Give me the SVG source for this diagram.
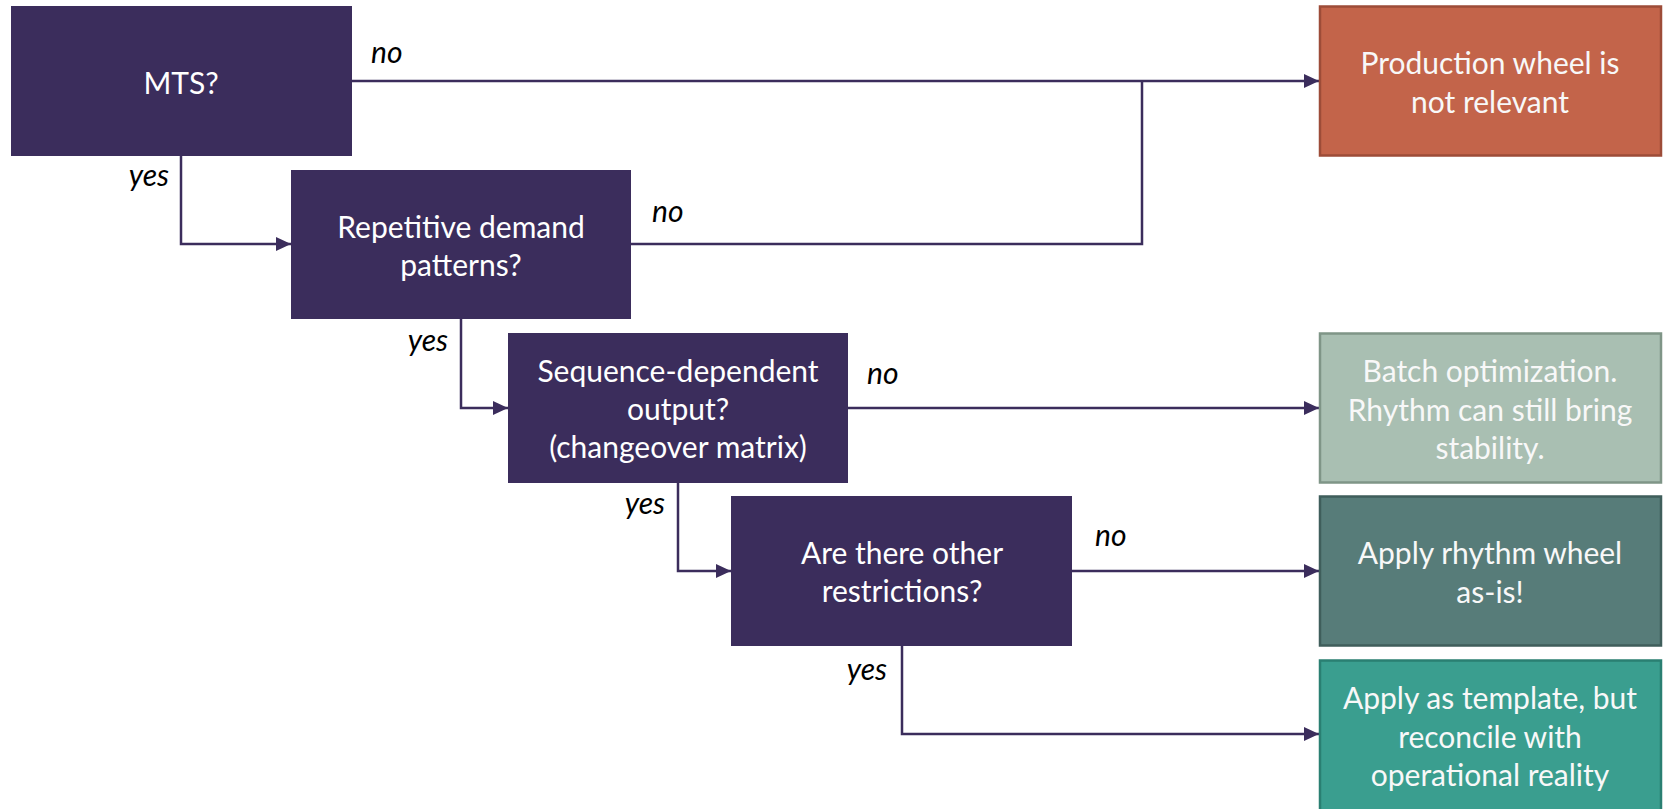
<svg xmlns="http://www.w3.org/2000/svg" width="1669" height="809" viewBox="0 0 1669 809">
  <style>
    .q { fill: #3b2d5c; }
    .qt { fill: #ffffff; font-family: Lato, "Liberation Sans", sans-serif; font-size: 30px; text-anchor: middle; }
    .rt { fill: #f8f8f8; font-family: Lato, "Liberation Sans", sans-serif; font-size: 30px; text-anchor: middle; }
    .lbl { fill: #000000; font-family: Lato, "Liberation Sans", sans-serif; font-size: 30px; font-style: italic; }
    .end { text-anchor: end; }
    .wire { fill: none; stroke: #3b2d5c; stroke-width: 2.5; }
    .arrow { marker-end: url(#head); }
  </style>
  <defs>
    <marker id="head" markerUnits="userSpaceOnUse" markerWidth="16" markerHeight="16" refX="15" refY="7" orient="auto">
      <path d="M0,0 L15,7 L0,14 z" fill="#3b2d5c"/>
    </marker>
  </defs>
  <rect width="1669" height="809" fill="#ffffff"/>

  <!-- connectors -->
  <g id="connectors">
    <path class="wire arrow" d="M352,81 H1319"/>
    <path class="wire" d="M631,244 H1142 V81"/>
    <path class="wire arrow" d="M181,156 V244 H291"/>
    <path class="wire arrow" d="M461,319 V408 H508"/>
    <path class="wire arrow" d="M848,408 H1319"/>
    <path class="wire arrow" d="M678,483 V571 H731"/>
    <path class="wire arrow" d="M1072,571 H1319"/>
    <path class="wire arrow" d="M902,646 V734 H1319"/>
    <text class="lbl" x="371" y="63">no</text>
    <text class="lbl end" x="169" y="186">yes</text>
    <text class="lbl" x="652" y="222">no</text>
    <text class="lbl end" x="448" y="351">yes</text>
    <text class="lbl" x="867" y="384">no</text>
    <text class="lbl end" x="665" y="514">yes</text>
    <text class="lbl" x="1095" y="546">no</text>
    <text class="lbl end" x="887" y="680">yes</text>
  </g>

  <!-- decision boxes -->
  <g id="q-mts">
    <rect class="q" x="11" y="6" width="341" height="150"/>
    <text class="qt" x="181" y="94">MTS?</text>
  </g>
  <g id="q-repetitive">
    <rect class="q" x="291" y="170" width="340" height="149"/>
    <text class="qt" x="461" y="238">Repetitive demand</text>
    <text class="qt" x="461" y="276">patterns?</text>
  </g>
  <g id="q-sequence">
    <rect class="q" x="508" y="333" width="340" height="150"/>
    <text class="qt" x="678" y="382">Sequence-dependent</text>
    <text class="qt" x="678" y="420">output?</text>
    <text class="qt" x="678" y="458">(changeover matrix)</text>
  </g>
  <g id="q-restrictions">
    <rect class="q" x="731" y="496" width="341" height="150"/>
    <text class="qt" x="902" y="564">Are there other</text>
    <text class="qt" x="902" y="602">restrictions?</text>
  </g>

  <!-- outcome boxes -->
  <g id="r-not-relevant">
    <rect x="1320" y="6.5" width="341" height="149" fill="#c3644a" stroke="#9d4c38" stroke-width="2.5"/>
    <text class="rt" x="1490" y="74">Production wheel is</text>
    <text class="rt" x="1490" y="113">not relevant</text>
  </g>
  <g id="r-batch">
    <rect x="1320" y="333.5" width="341" height="149" fill="#a9bfb2" stroke="#7f9587" stroke-width="2.5"/>
    <text class="rt" x="1490" y="382">Batch optimization.</text>
    <text class="rt" x="1490" y="420.5">Rhythm can still bring</text>
    <text class="rt" x="1490" y="459">stability.</text>
  </g>
  <g id="r-as-is">
    <rect x="1320" y="496.5" width="341" height="149" fill="#577c79" stroke="#3f5e5b" stroke-width="2.5"/>
    <text class="rt" x="1490" y="564">Apply rhythm wheel</text>
    <text class="rt" x="1490" y="603">as-is!</text>
  </g>
  <g id="r-template">
    <rect x="1320" y="660.5" width="341" height="150" fill="#3a9e8f" stroke="#2a7f72" stroke-width="2.5"/>
    <text class="rt" x="1490" y="709">Apply as template, but</text>
    <text class="rt" x="1490" y="747.5">reconcile with</text>
    <text class="rt" x="1490" y="786">operational reality</text>
  </g>
</svg>
